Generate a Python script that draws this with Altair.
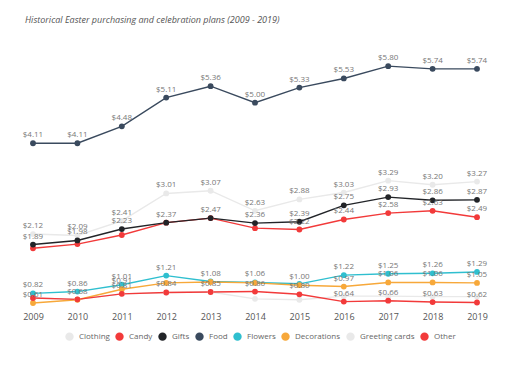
import altair as alt
import pandas as pd

years = list(range(2009, 2020))

series_names = ["Clothing", "Greeting cards", "Candy", "Gifts", "Food",
                "Flowers", "Decorations", "Other"]
legend_order = ["Clothing", "Candy", "Gifts", "Food", "Flowers",
                "Decorations", "Greeting cards", "Other"]
legend_colors = ["#e9e9e9", "#f23a3a", "#222428", "#3a4a5e", "#2fbfcf",
                 "#f7a83a", "#e9e9e9", "#f23a3a"]

clothing = [2.12, 2.09, 2.41, 3.01, 3.07, 2.63, 2.88, 3.03, 3.29, 3.20, 3.27]
greeting = [0.72, 0.69, 0.81, 0.84, 0.85, 0.70, 0.68, 0.76, 0.76, 0.75, 0.75]
candy = [1.81, 1.90, 2.10, 2.37, 2.47, 2.25, 2.22, 2.44, 2.58, 2.63, 2.49]
gifts = [1.89, 1.98, 2.23, 2.37, 2.47, 2.36, 2.39, 2.75, 2.93, 2.86, 2.87]
food = [4.11, 4.11, 4.48, 5.11, 5.36, 5.00, 5.33, 5.53, 5.80, 5.74, 5.74]
flowers = [0.82, 0.86, 1.01, 1.21, 1.08, 1.06, 1.03, 1.22, 1.25, 1.26, 1.29]
decorations = [0.61, 0.68, 0.91, 1.05, 1.07, 1.05, 1.00, 0.97, 1.06, 1.06, 1.05]
other = [0.72, 0.69, 0.81, 0.84, 0.85, 0.86, 0.80, 0.64, 0.66, 0.63, 0.62]

# 1 = value label shown in the reference, 0 = hidden
show_clothing = [1] * 11
show_greeting = [0] * 11
show_candy = [0, 0, 0, 0, 0, 0, 1, 1, 1, 1, 1]
show_gifts = [1] * 11
show_food = [1] * 11
show_flowers = [1, 1, 1, 1, 1, 1, 0, 1, 1, 1, 1]
show_decorations = [1, 1, 1, 0, 0, 0, 1, 1, 1, 1, 1]
show_other = [0, 0, 1, 1, 1, 1, 1, 1, 1, 1, 1]

values = [clothing, greeting, candy, gifts, food, flowers, decorations, other]
shows = [show_clothing, show_greeting, show_candy, show_gifts, show_food,
         show_flowers, show_decorations, show_other]

rows = []
for name, vals, sh in zip(series_names, values, shows):
    for y, v, s in zip(years, vals, sh):
        rows.append({"series": name, "year": y, "value": v, "show": s,
                     "label": f"${v:.2f}"})
df = pd.DataFrame(rows)

color = alt.Color(
    "series:N",
    scale=alt.Scale(domain=legend_order, range=legend_colors),
    legend=alt.Legend(
        title=None, orient="none", direction="horizontal",
        legendX=32, legendY=275,
        symbolType="circle", symbolSize=70, symbolStrokeWidth=0,
        labelFontSize=8, labelColor="#666", labelFont="Open Sans",
        columnPadding=5, symbolOffset=0, labelOffset=5,
    ),
)

x = alt.X("year:Q", scale=alt.Scale(domain=[2009, 2019], nice=False),
          axis=alt.Axis(title=None, values=years, format="d", grid=False,
                        domain=False, ticks=False, labelFontSize=9,
                        labelColor="#555", labelFont="Open Sans",
                        labelPadding=4, labelFlush=False))
y = alt.Y("value:Q", scale=alt.Scale(domain=[0.5, 6.0], nice=False, zero=False),
          axis=None)

base = alt.Chart(df).encode(x=x, y=y, color=color,
                            order=alt.Order("year:Q"))

lines = base.mark_line(strokeWidth=1.4)
points = base.mark_point(filled=True, size=34, opacity=1)
labels = base.transform_filter("datum.show == 1").mark_text(
    dy=-8, fontSize=8, color="#777", font="Open Sans"
).encode(text="label:N", color=alt.value("#777"))

chart = alt.layer(lines, points, labels).properties(
    width=444, height=251,
    background="white",
    autosize=alt.AutoSizeParams(type="none"),
    padding={"left": 25, "top": 49, "right": 27, "bottom": 41},
    title=alt.TitleParams(
        "Historical Easter purchasing and celebration plans (2009 - 2019)",
        anchor="start", frame="group", dx=-8, offset=29,
        fontSize=9, fontStyle="italic", fontWeight="normal",
        color="#555", font="Open Sans"),
).configure_view(stroke=None, strokeWidth=0)

chart.save("out.html", embed_options={"renderer": "svg", "actions": False})
